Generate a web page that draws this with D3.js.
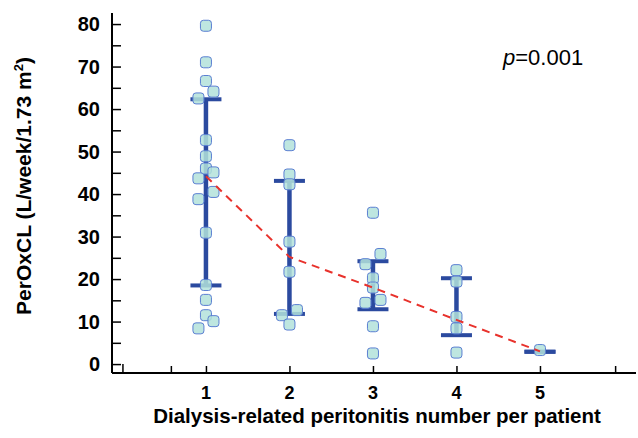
<!DOCTYPE html>
<html>
<head>
<meta charset="utf-8">
<script src="https://cdn.jsdelivr.net/npm/d3@7"></script>
<style>
  body { margin: 0; background: #fff; }
  svg text { font-family: "Liberation Sans", Arial, sans-serif; }
</style>
</head>
<body>
<svg id="chart" width="638" height="438"></svg>
<script>
// Data
const groups = [1, 2, 3, 4, 5];
const means = [44.2, 25.2, 18.0, 10.4, 3.0];
const upper = [62.3, 43.1, 24.2, 20.2, 2.9];
const lower = [18.5, 11.8, 12.9, 6.8, 2.9];

// individual patients: group, value, side (-1 left, 0 centre, 1 right)
const ptGroup = [1,1,1,1,1,1,1,1,1,1,1,1,1,1,1,1,1,1,
                 2,2,2,2,2,2,2,2,
                 3,3,3,3,3,3,3,3,3,
                 4,4,4,4,4,
                 5];
const ptValue = [79.6,71.0,66.6,64.1,62.5,52.7,48.9,46.0,45.1,43.7,40.5,38.8,30.9,18.6,15.1,11.5,10.1,8.4,
                 51.5,44.6,42.3,28.8,21.7,12.7,11.5,9.3,
                 35.6,25.9,23.5,20.2,18.0,15.1,14.4,8.9,2.5,
                 22.1,19.4,11.1,8.4,2.7,
                 3.3];
const ptSide = [0,0,0,1,-1,0,0,0,1,-1,1,-1,0,0,0,0,1,-1,
                0,0,0,0,0,1,-1,0,
                0,1,-1,0,0,1,-1,0,0,
                0,0,0,0,0,
                0];

const xTicks = [0, 0.58, 1, 2, 3, 4, 5, 5.9];
const xLabels = [1, 2, 3, 4, 5];
const yMajor = d3.range(0, 81, 10);
const yMinor = d3.range(5, 80, 10);
const pText = "0.001";

const svg = d3.select("#chart");

let x = d3.scaleLinear().domain([-0.125, 6.15]).range([112, 636]);
let y = d3.scaleLinear().domain([-2.1, 82.6]).range([373, 13]);
const jitter = 0.09;

// axes
const yAxis = svg.append("g")
    .attr("transform", "translate(" + x.range()[0] + ",0)")
    .call(d3.axisRight(y).tickValues(yMajor.concat(yMinor)).tickSize(9).tickFormat(""));
yAxis.select(".domain").attr("stroke-width", 2).attr("d", "M0," + y.range()[0] + "V" + y.range()[1]);
yAxis.selectAll(".tick line").attr("stroke-width", 1.5);

const xAxis = svg.append("g")
    .attr("transform", "translate(0," + y.range()[0] + ")")
    .call(d3.axisTop(x).tickValues(xTicks).tickSize(7).tickFormat(""));
xAxis.select(".domain").attr("stroke-width", 2).attr("d", "M" + x.range()[0] + ",0H" + x.range()[1]);
xAxis.selectAll(".tick line").attr("stroke-width", 1.5)
    .attr("y2", d => d === 0 ? -9 : -7);

// tick labels
svg.append("g").selectAll("text")
    .data(yMajor).enter()
    .append("text")
    .attr("x", 100)
    .attr("y", d => y(d) + 7)
    .attr("text-anchor", "end")
    .style("font-size", "20px")
    .style("font-weight", "bold")
    .text(d => d);

svg.append("g").selectAll("text")
    .data(xLabels).enter()
    .append("text")
    .attr("x", d => x(d))
    .attr("y", 399)
    .attr("text-anchor", "middle")
    .style("font-size", "18px")
    .style("font-weight", "bold")
    .text(d => d);

// axis titles
svg.append("text")
    .attr("x", 377)
    .attr("y", 423)
    .attr("text-anchor", "middle")
    .style("font-size", "20.5px")
    .style("font-weight", "bold")
    .text("Dialysis-related peritonitis number per patient");

const yt = svg.append("text")
    .attr("transform", "translate(31,186) rotate(-90)")
    .attr("text-anchor", "middle")
    .style("font-size", "21px")
    .style("font-weight", "bold");
yt.append("tspan").text("PerOxCL (L/week/1.73 m");
yt.append("tspan").attr("dy", -8).style("font-size", "13px").text("2");
yt.append("tspan").attr("dy", 8).text(")");

// p value
const pv = svg.append("text")
    .attr("x", 503)
    .attr("y", 65)
    .style("font-size", "22px");
pv.append("tspan").style("font-style", "italic").text("p");
pv.append("tspan").text("=" + pText);

// error bars
const barColor = "#2b4a9f";
const capHalf = 15.5;
const bars = svg.append("g");
groups.forEach(function (g, i) {
    bars.append("line")
        .attr("x1", x(g)).attr("x2", x(g))
        .attr("y1", y(upper[i])).attr("y2", y(lower[i]))
        .attr("stroke", barColor).attr("stroke-width", 4.5);
    [upper[i], lower[i]].forEach(function (v) {
        bars.append("line")
            .attr("x1", x(g) - capHalf).attr("x2", x(g) + capHalf)
            .attr("y1", y(v)).attr("y2", y(v))
            .attr("stroke", barColor).attr("stroke-width", 4);
    });
});

// patient points
const pts = ptValue.map((v, i) => ({ g: ptGroup[i], v: v, s: ptSide[i] }));
const size = 11;
svg.append("g").selectAll("rect")
    .data(pts).enter()
    .append("rect")
    .attr("x", d => x(d.g + d.s * jitter) - size / 2)
    .attr("y", d => y(d.v) - size / 2)
    .attr("width", size)
    .attr("height", size)
    .attr("rx", 3)
    .attr("fill", "#b3e2da")
    .attr("fill-opacity", 0.85)
    .attr("stroke", "#5b7fd2")
    .attr("stroke-width", 1);

// mean line
const line = d3.line()
    .x((d, i) => x(groups[i]))
    .y(d => y(d));
svg.append("path")
    .datum(means)
    .attr("d", line)
    .attr("fill", "none")
    .attr("stroke", "#e8322c")
    .attr("stroke-width", 2)
    .attr("stroke-dasharray", "8,6");
</script>
</body>
</html>
